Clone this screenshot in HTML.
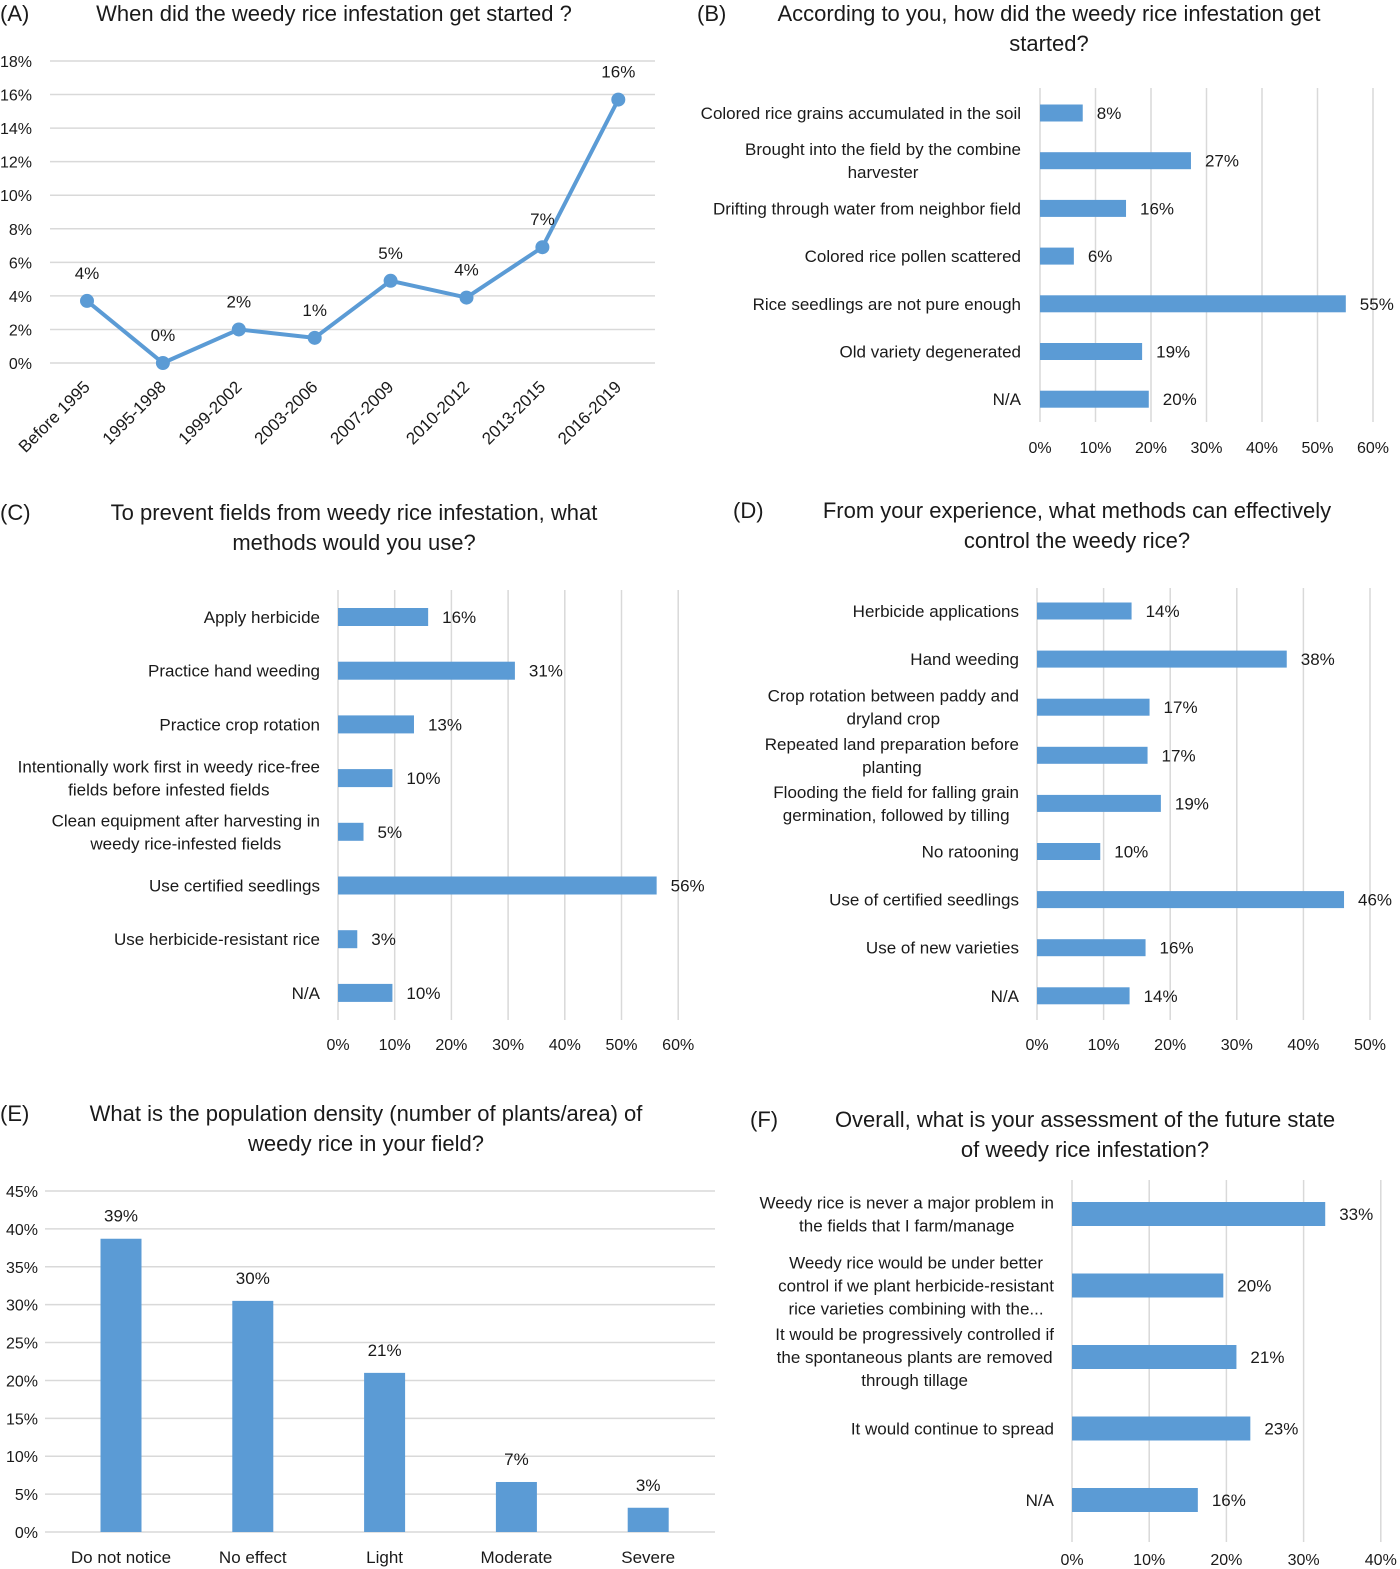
<!DOCTYPE html>
<html><head><meta charset="utf-8">
<style>
html,body{margin:0;padding:0;background:#fff;}
svg{display:block;font-family:"Liberation Sans",sans-serif;}
text{fill:#1a1a1a;}
.t{font-size:22px;}
.l{font-size:17px;}
.k{font-size:16px;}
.g{stroke:#d9d9d9;stroke-width:1.5;}
</style></head>
<body>
<svg id="c" width="1400" height="1569" viewBox="0 0 1400 1569" xmlns="http://www.w3.org/2000/svg"></svg>
<script>
// Panel A data
const aCats=["Before 1995","1995-1998","1999-2002","2003-2006","2007-2009","2010-2012","2013-2015","2016-2019"];
const aVals=[3.7,0,2,1.5,4.9,3.9,6.9,15.7];
const aLabels=["4%","0%","2%","1%","5%","4%","7%","16%"];
const aTicks=[0,2,4,6,8,10,12,14,16,18];
// Panel B
const bCats=[["Colored rice grains accumulated in the soil"],["Brought into the field by the combine","harvester"],["Drifting through water from neighbor field"],["Colored rice pollen scattered"],["Rice seedlings are not pure enough"],["Old variety degenerated"],["N/A"]];
const bVals=[7.7,27.2,15.5,6.1,55.1,18.4,19.6];
const bLabels=["8%","27%","16%","6%","55%","19%","20%"];
const bTicks=[0,10,20,30,40,50,60];
// Panel C
const cCats=[["Apply herbicide"],["Practice hand weeding"],["Practice crop rotation"],["Intentionally work first in weedy rice-free","fields before infested fields"],["Clean equipment after harvesting in","weedy rice-infested fields"],["Use certified seedlings"],["Use herbicide-resistant rice"],["N/A"]];
const cVals=[15.9,31.2,13.4,9.6,4.5,56.2,3.4,9.6];
const cLabels=["16%","31%","13%","10%","5%","56%","3%","10%"];
const cTicks=[0,10,20,30,40,50,60];
// Panel D
const dCats=[["Herbicide applications"],["Hand weeding"],["Crop rotation between paddy and","dryland crop"],["Repeated land preparation before","planting"],["Flooding the field for falling grain","germination, followed by tilling"],["No ratooning"],["Use of certified seedlings"],["Use of new varieties"],["N/A"]];
const dVals=[14.2,37.5,16.9,16.6,18.6,9.5,46.1,16.3,13.9];
const dLabels=["14%","38%","17%","17%","19%","10%","46%","16%","14%"];
const dTicks=[0,10,20,30,40,50];
// Panel E
const eCats=["Do not notice","No effect","Light","Moderate","Severe"];
const eVals=[38.7,30.5,21,6.6,3.2];
const eLabels=["39%","30%","21%","7%","3%"];
const eTicks=[0,5,10,15,20,25,30,35,40,45];
// Panel F
const fCats=[["Weedy rice is never a major problem in","the fields that I farm/manage"],["Weedy rice would be under better","control if we plant herbicide-resistant","rice varieties combining with the..."],["It would be progressively controlled if","the spontaneous plants are removed","through tillage"],["It would continue to spread"],["N/A"]];
const fVals=[32.8,19.6,21.3,23.1,16.3];
const fLabels=["33%","20%","21%","23%","16%"];
const fTicks=[0,10,20,30,40];

const svg=document.getElementById('c');
const NS="http://www.w3.org/2000/svg";
function el(tag,attrs,parent){const e=document.createElementNS(NS,tag);for(const k in attrs)e.setAttribute(k,attrs[k]);(parent||svg).appendChild(e);return e;}
function txt(x,y,s,cls,anchor,parent){const t=el('text',{x:x,y:y,class:cls,'text-anchor':anchor||'start'},parent);t.textContent=s;return t;}
function group(name){const g=el('g',{});return g;}
const BLUE="#5b9bd5";

function titles(g,letter,lx,ly,lines,cx,ty){
  const p=txt(lx,ly,letter,'t','start',g);
  
  lines.forEach((s,i)=>{const t=txt(cx,ty+i*30,s,'t','middle',g);
  });
}

// Panel A
(function(){
  const g=group('panel-a-line-chart');
  titles(g,'(A)',0,21,['When did the weedy rice infestation get started ?'],334,21);
  const y=v=>363-v*(302/18);
  const x=i=>87+i*75.9;
  aTicks.forEach(t=>{const ln=el('line',{x1:50,x2:655,y1:y(t),y2:y(t),class:'g'},g);
    
    const tl=txt(32,y(t)+6,t+'%','k','end',g);
    });
  const pts=aVals.map((v,i)=>x(i)+','+y(v)).join(' ');
  const pl=el('polyline',{points:pts,fill:'none',stroke:BLUE,'stroke-width':4,'stroke-linejoin':'round'},g);
  
  aVals.forEach((v,i)=>{const c=el('circle',{cx:x(i),cy:y(v),r:7,fill:BLUE},g);
    
    const l=txt(x(i),y(v)-22,aLabels[i],'l','middle',g);
    
    const xl=txt(0,0,aCats[i],'l','end',g);
    xl.setAttribute('transform','translate('+(x(i)+4)+',388) rotate(-45)');
    });
})();

function hbar(name,cats,vals,labels,ticks,x0,xPer10,rowY,rowStep,gTop,gBot,tickY,barH,labelX){
  const g=group(name);
  const x=v=>x0+v*xPer10/10;
  ticks.forEach(t=>{const ln=el('line',{x1:x(t),x2:x(t),y1:gTop,y2:gBot,class:'g'},g);
    
    const tl=txt(x(t),tickY,t+'%','k','middle',g);
    });
  vals.forEach((v,i)=>{const cy=rowY+i*rowStep;
    const r=el('rect',{x:x0,y:cy-barH/2,width:x(v)-x0,height:barH,fill:BLUE},g);
    
    const l=txt(x(v)+14,cy+6,labels[i],'l','start',g);
    
    const lines=cats[i];const n=lines.length;
    const ts=lines.map((s,j)=>{const t=txt(labelX,cy+6+(j-(n-1)/2)*23,s,'l','end',g);
      return t;});
    if(n>1){let w=0;ts.forEach(t=>{w=Math.max(w,t.getComputedTextLength());});
      ts.forEach(t=>{t.setAttribute('text-anchor','middle');t.setAttribute('x',labelX-w/2);});}
  });
  return g;
}

const gB=hbar('panel-b-bar-chart',bCats,bVals,bLabels,bTicks,1040,55.5,113,47.7,88,422,453,17,1021);
titles(gB,'(B)',697,21,['According to you, how did the weedy rice infestation get','started?'],1049,21);

const gC=hbar('panel-c-bar-chart',cCats,cVals,cLabels,cTicks,338,56.7,617,53.7,590,1020,1050,18,320);
titles(gC,'(C)',0,520,['To prevent fields from weedy rice infestation, what','methods would you use?'],354,520);

const gD=hbar('panel-d-bar-chart',dCats,dVals,dLabels,dTicks,1037,66.6,611,48.1,588,1020,1050,17,1019);
titles(gD,'(D)',733,518,['From your experience, what methods can effectively','control the weedy rice?'],1077,518);

const gF=hbar('panel-f-bar-chart',fCats,fVals,fLabels,fTicks,1072,77.2,1214,71.5,1180,1542,1565,24,1054);
titles(gF,'(F)',750,1127,['Overall, what is your assessment of the future state','of weedy rice infestation?'],1085,1127);

// Panel E
(function(){
  const g=group('panel-e-column-chart');
  titles(g,'(E)',0,1121,['What is the population density (number of plants/area) of','weedy rice in your field?'],366,1121);
  const y=v=>1532-v*(341/45);
  const x=i=>121+i*131.8;
  eTicks.forEach(t=>{const ln=el('line',{x1:45,x2:715,y1:y(t),y2:y(t),class:'g'},g);
    
    const tl=txt(38,y(t)+6,t+'%','k','end',g);
    });
  eVals.forEach((v,i)=>{const r=el('rect',{x:x(i)-20.5,y:y(v),width:41,height:y(0)-y(v),fill:BLUE},g);
    
    const l=txt(x(i),y(v)-17,eLabels[i],'l','middle',g);
    
    const xl=txt(x(i),1563,eCats[i],'l','middle',g);
    });
})();
</script>
</body></html>
